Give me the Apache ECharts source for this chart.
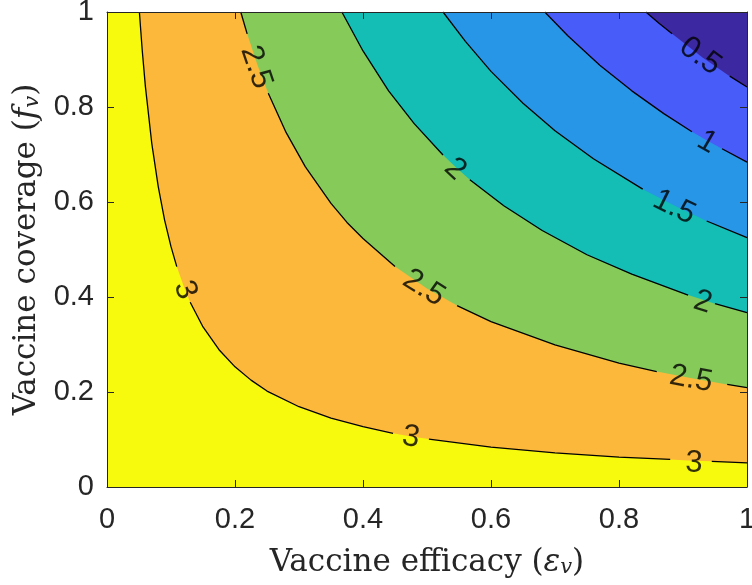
<!DOCTYPE html>
<html>
<head>
<meta charset="utf-8">
<script src="https://cdn.jsdelivr.net/npm/echarts@6/dist/echarts.min.js"></script>
<style>
html,body{margin:0;padding:0;background:#fff;}
#chart{width:752px;height:585px;}
</style>
</head>
<body>
<div id="chart"></div>
<script>
// ---- data ----
const xTicks = [0, 0.2, 0.4, 0.6, 0.8, 1];
const yTicks = [0, 0.2, 0.4, 0.6, 0.8, 1];
const levels = [3, 2.5, 2, 1.5, 1, 0.5];

// contour lines: [efficacy, coverage]
const contour3 = [[0.0506,1],[0.055,0.92],[0.06,0.843],[0.07,0.723],[0.08,0.633],[0.09,0.562],[0.1,0.506],[0.109,0.464],[0.12,0.422],[0.13,0.389],[0.15,0.337],[0.175,0.289],[0.2,0.253],[0.225,0.225],[0.25,0.202],[0.3,0.169],[0.35,0.145],[0.4,0.127],[0.447,0.113],[0.475,0.1065],[0.503,0.101],[0.6,0.084],[0.7,0.072],[0.8,0.063],[0.88,0.058],[0.915,0.0553],[0.945,0.054],[1,0.051]];
const contour25 = [[0.209,1],[0.219,0.954],[0.235,0.889],[0.252,0.829],[0.28,0.746],[0.31,0.674],[0.35,0.597],[0.375,0.557],[0.4,0.523],[0.45,0.464],[0.5,0.418],[0.547,0.382],[0.6,0.348],[0.7,0.299],[0.8,0.261],[0.859,0.243],[0.914,0.229],[0.969,0.216],[1,0.209]];
const contour2 = [[0.367,1],[0.4,0.918],[0.44,0.834],[0.48,0.765],[0.525,0.699],[0.545,0.673],[0.567,0.647],[0.62,0.592],[0.68,0.54],[0.75,0.489],[0.82,0.448],[0.908,0.404],[0.93,0.395],[0.95,0.386],[1,0.367]];
const contour15 = [[0.525,1],[0.56,0.938],[0.6,0.875],[0.65,0.808],[0.7,0.75],[0.76,0.691],[0.837,0.627],[0.887,0.592],[0.937,0.56],[1,0.525]];
const contour1 = [[0.684,1],[0.72,0.95],[0.77,0.888],[0.82,0.834],[0.87,0.786],[0.914,0.748],[0.937,0.73],[0.961,0.712],[1,0.684]];
const contour05 = [[0.842,1],[0.862,0.977],[0.883,0.954],[0.93,0.905],[0.973,0.865],[1,0.842]];

// inline label placements (efficacy, coverage, text) and line breaks under them
const labelEps  = [0.122, 0.475, 0.917, 0.233, 0.495, 0.9125, 0.544, 0.931, 0.886, 0.9375, 0.927];
const labelCov  = [0.415, 0.105, 0.0505, 0.884, 0.419, 0.227, 0.669, 0.389, 0.589, 0.726, 0.907];
const labelText = ['3','3','3','2.5','2.5','2.5','2','2','1.5','1','0.5'];
const labelRot  = [-69, -9.5, -2.6, -71, -32, -10.6, -43, -17.4, -26, -30, -36];
const gaps = [
  [[0.109,0.13],[0.447,0.503],[0.88,0.945]],
  [[0.219,0.252],[0.45,0.547],[0.859,0.969]],
  [[0.525,0.567],[0.908,0.95]],
  [[0.837,0.937]],
  [[0.914,0.961]],
  [[0.883,0.973]]
];

// ---- styling ----
const bgColor = '#f8fa0d';
const fillColors = ['#fbb83a','#86ca5a','#14beb5','#2896e6','#485cfa','#3c28a0'];
const axisColor = '#262626';
const sans = 'Liberation Sans, Arial, Helvetica, sans-serif';
const serif = 'DejaVu Serif, serif';

const contours = [contour3, contour25, contour2, contour15, contour1, contour05];

function splitLine(pts, gp) {
  const segs = [];
  let cur = [];
  for (const p of pts) {
    const inside = gp.some(g => p[0] > g[0] && p[0] < g[1]);
    if (inside) { if (cur.length) { segs.push(cur); cur = []; } continue; }
    if (cur.length) {
      const prev = cur[cur.length - 1];
      const crossed = gp.some(g => prev[0] <= g[0] && p[0] >= g[1]);
      if (crossed) { segs.push(cur); cur = []; }
    }
    cur.push(p);
  }
  if (cur.length) segs.push(cur);
  return segs.filter(s => s.length > 1);
}

const series = [];
contours.forEach((c, i) => {
  series.push({
    type: 'line', data: c, symbol: 'none', silent: true, z: 2 + i,
    lineStyle: { width: 0, opacity: 0 },
    areaStyle: { color: fillColors[i], opacity: 1, origin: 'end' },
    animation: false
  });
});
contours.forEach((c, i) => {
  splitLine(c, gaps[i]).forEach(seg => {
    series.push({
      type: 'line', data: seg, symbol: 'none', silent: true, z: 20,
      lineStyle: { color: '#000', width: 1.3 },
      animation: false
    });
  });
});
series.push({
  type: 'scatter', symbolSize: 0, z: 30, silent: true, animation: false,
  data: labelEps.map((e, i) => ({
    value: [e, labelCov[i]],
    label: { show: true, position: 'inside', formatter: labelText[i], rotate: labelRot[i],
      fontFamily: sans, fontSize: 31, color: '#000' }
  }))
});

const rich = {
  r: { fontFamily: serif, fontSize: 31, color: axisColor, lineHeight: 42, verticalAlign: 'bottom' },
  i: { fontFamily: serif, fontSize: 31, fontStyle: 'italic', color: axisColor, lineHeight: 42, verticalAlign: 'bottom' },
  s: { fontFamily: serif, fontSize: 21, fontStyle: 'italic', color: axisColor, lineHeight: 21, verticalAlign: 'bottom' }
};

const baseAxis = {
  type: 'value', min: 0, max: 1, interval: 0.2, z: 40,
  axisLine: { show: true, onZero: false, lineStyle: { color: axisColor, width: 1 } },
  axisTick: { show: true, inside: true, length: 7, lineStyle: { color: axisColor, width: 1 } },
  splitLine: { show: false }
};

const option = {
  backgroundColor: '#fff',
  animation: false,
  grid: { left: 107, right: 5, top: 12, bottom: 98, show: true, backgroundColor: bgColor, borderWidth: 0,
    containLabel: false, outerBoundsMode: 'none' },
  xAxis: [
    Object.assign({}, baseAxis, {
      position: 'bottom',
      axisLabel: { show: true, margin: 18, fontFamily: sans, fontSize: 29, color: axisColor,
        customValues: xTicks, formatter: v => String(v) },
      name: '{r|Vaccine efficacy (}{i|ε}{s|v}{r|)}',
      nameLocation: 'middle', nameGap: 49,
      nameTextStyle: { rich: rich }
    }),
    Object.assign({}, baseAxis, { position: 'top', axisLabel: { show: false } })
  ],
  yAxis: [
    Object.assign({}, baseAxis, {
      position: 'left',
      axisLabel: { show: true, margin: 13, fontFamily: sans, fontSize: 29, color: axisColor,
        customValues: yTicks, formatter: v => String(v) },
      name: '{r|Vaccine coverage (}{i|f}{s|v}{r|)}',
      nameLocation: 'middle', nameGap: 60,
      nameTextStyle: { rich: rich }
    }),
    Object.assign({}, baseAxis, { position: 'right', axisLabel: { show: false } })
  ],
  series: series
};

const chart = echarts.init(document.getElementById('chart'), null, { renderer: 'canvas' });
chart.setOption(option);
</script>
</body>
</html>
